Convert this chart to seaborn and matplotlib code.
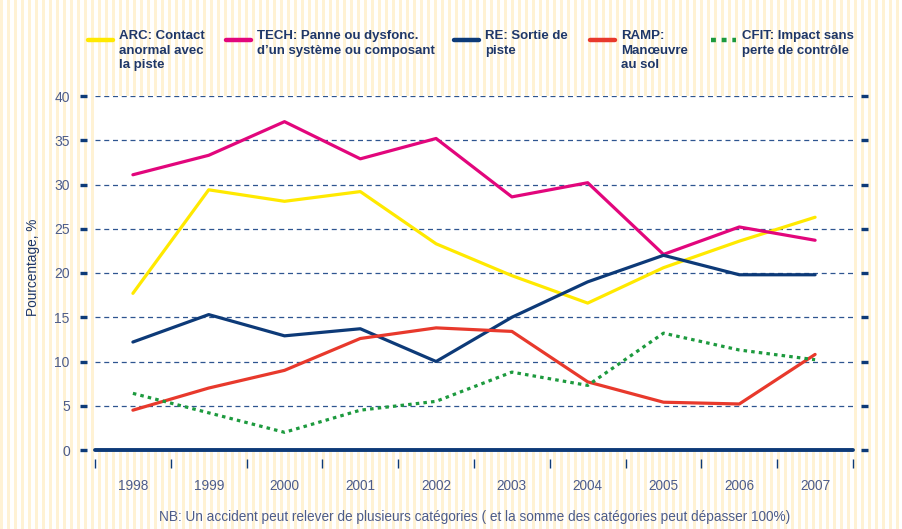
import numpy as np
import pandas as pd
import matplotlib.pyplot as plt
import seaborn as sns
from matplotlib.lines import Line2D

# Data
years = ['1998', '1999', '2000', '2001', '2002', '2003', '2004', '2005', '2006', '2007']
arc = [17.7, 29.4, 28.1, 29.2, 23.3, 19.7, 16.6, 20.6, 23.6, 26.3]
tech = [31.1, 33.3, 37.1, 32.9, 35.2, 28.6, 30.2, 22.1, 25.2, 23.7]
re_ = [12.2, 15.3, 12.9, 13.7, 10.0, 15.0, 19.0, 22.0, 19.8, 19.8]
ramp = [4.5, 7.0, 9.0, 12.6, 13.8, 13.4, 7.7, 5.4, 5.2, 10.8]
cfit = [6.4, 4.2, 2.0, 4.5, 5.5, 8.8, 7.3, 13.2, 11.3, 10.2]

series = ['ARC', 'TECH', 'RE', 'RAMP', 'CFIT']
legend_labels = ['ARC: Contact\nanormal avec\nla piste',
                 "TECH: Panne ou dysfonc.\nd\u2019un syst\u00e8me ou composant",
                 'RE: Sortie de\npiste',
                 'RAMP:\nMan\u0153uvre\nau sol',
                 'CFIT: Impact sans\nperte de contr\u00f4le']
yticks = [0, 5, 10, 15, 20, 25, 30, 35, 40]

navy = '#0d3a78'
txt_navy = '#1f3768'
tick_col = '#4d5c8a'
palette = {'ARC': '#ffe900', 'TECH': '#e2067c', 'RE': '#0d3a78',
           'RAMP': '#e8392c', 'CFIT': '#1d9a3e'}
dashes = {'ARC': '', 'TECH': '', 'RE': '', 'RAMP': '', 'CFIT': (1.1, 1.3)}

rows = []
for name, vals in zip(series, [arc, tech, re_, ramp, cfit]):
    for i, v in enumerate(vals):
        rows.append({'pos': i, 'year': years[i], 'serie': name, 'val': v})
df = pd.DataFrame(rows)

sns.set_style('white')
plt.rcParams['font.family'] = ['Liberation Sans Narrow', 'Liberation Sans', 'DejaVu Sans']

W, H = 902, 529
fig = plt.figure(figsize=(W / 100, H / 100), dpi=100)
fig.patch.set_facecolor('white')

# striped cream background
bg = np.ones((H, W, 3))
cols = (np.arange(W) % 7) < 3
bg[:, cols] = np.array([255, 242, 212]) / 255.0
fig.figimage(bg, xo=0, yo=0, origin='upper', zorder=-5)

ax = fig.add_axes([95 / W, 1 - 450 / H, 758 / W, (450 - 96) / H])
ax.set_facecolor('white')

sns.lineplot(data=df, x='pos', y='val', hue='serie', style='serie',
             palette=palette, dashes=dashes, linewidth=2.3, legend=False,
             ax=ax, zorder=3)

ax.set_xlim(-0.5, 9.5)
ax.set_ylim(0, 40)

# grid and zero line
ax.set_yticks(yticks)
ax.yaxis.grid(True, color='#2e5590', linewidth=0.9, linestyle=(0, (4, 3)))
ax.set_axisbelow(True)
ax.axhline(0, color=navy, linewidth=2.8, clip_on=False, zorder=4)

for s in ['top', 'left', 'right', 'bottom']:
    ax.spines[s].set_visible(False)
# spine offsets are in points (1 px = 0.72 pt here)
ax.spines['left'].set_position(('outward', 5.8))
ax.spines['right'].set_position(('outward', 5.8))
ax.spines['bottom'].set_position(('outward', 6.5))

ax.yaxis.set_ticks_position('both')
ax.tick_params(axis='y', which='major', left=True, right=True, direction='out',
               length=5.3, width=2.4, color=navy, labelsize=10, labelcolor=tick_col, pad=7,
               labelright=False, labelleft=True)

ax.set_xticks(range(len(years)))
ax.set_xticklabels(years)
ax.set_xticks(np.arange(-0.5, len(years), 1.0), minor=True)
ax.tick_params(axis='x', which='major', length=0, labelsize=9.8, labelcolor=tick_col, pad=14.5)
ax.tick_params(axis='x', which='minor', bottom=True, direction='out', length=6.3,
               width=1.0, color=navy)
ax.set_xlabel('')
ax.set_ylabel('')

fig.text(33 / W, 1 - 267 / H, 'Pourcentage, %', rotation=90, ha='center', va='center',
         fontsize=9.8, color=txt_navy)

# legend drawn by hand (handle aligned with first text line)
handle_x = [88, 226, 454, 590, 711]
for name, lab, hx in zip(series, legend_labels, handle_x):
    ls = (0, (1.1, 1.3)) if name == 'CFIT' else '-'
    fig.add_artist(Line2D([hx / W, (hx + 25) / W], [1 - 40 / H, 1 - 40 / H],
                          color=palette[name], linewidth=3.2, linestyle=ls))
    fig.text((hx + 31) / W, 1 - 30 / H, lab, ha='left', va='top', fontsize=9.5,
             fontweight='bold', color=txt_navy, linespacing=1.3)

fig.text(475 / W, 1 - 517 / H,
         'NB: Un accident peut relever de plusieurs cat\u00e9gories ( et la somme des cat\u00e9gories peut d\u00e9passer 100%)',
         ha='center', va='center', fontsize=9.8, color=tick_col)

fig.savefig('out.png', dpi=100)
